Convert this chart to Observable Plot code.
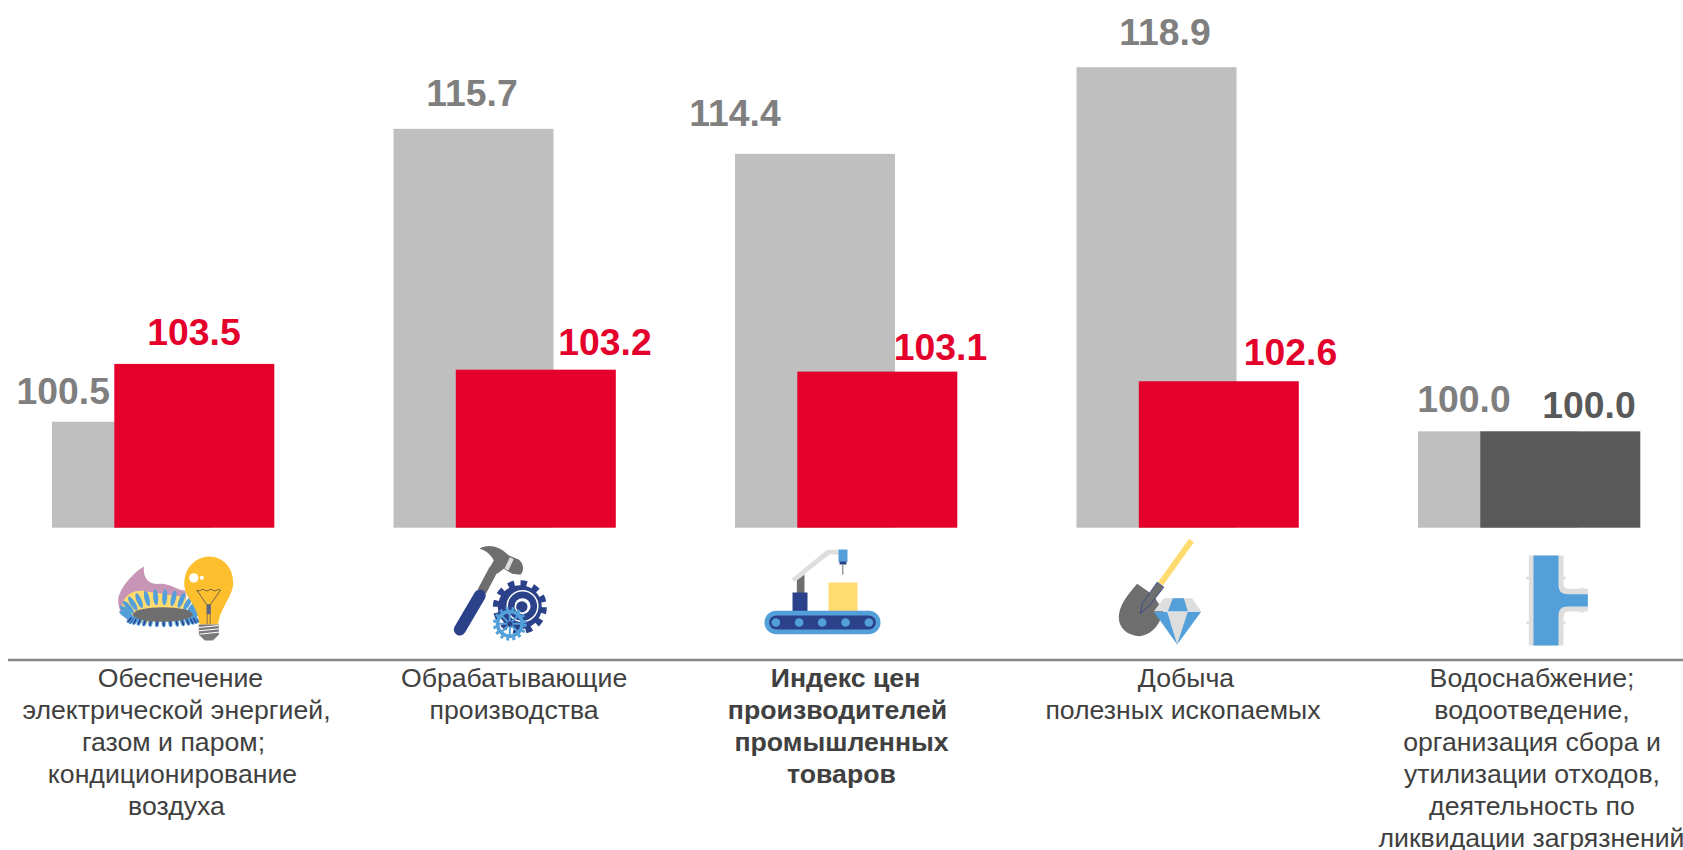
<!DOCTYPE html>
<html lang="ru">
<head>
<meta charset="utf-8">
<style>
html,body{margin:0;padding:0;background:#fff;overflow:hidden}
svg{display:block}
</style>
<script src="https://cdn.jsdelivr.net/npm/d3@7"></script>
<script src="https://cdn.jsdelivr.net/npm/@observablehq/plot@0.6"></script>
</head>
<body>
<div id="chart"></div>
<script>
// --- data ---
const categories = ["Электроэнергия", "Обрабатывающие", "Индекс", "Добыча", "Водоснабжение"];
const previousValues = [100.5, 115.7, 114.4, 118.9, 100.0];
const currentValues = [103.5, 103.2, 103.1, 102.6, 100.0];
const categoryLines = [
  ["Обеспечение", "электрической энергией,", "газом и паром;", "кондиционирование", "воздуха"],
  ["Обрабатывающие", "производства"],
  ["Индекс цен", "производителей", "промышленных", "товаров"],
  ["Добыча", "полезных ископаемых"],
  ["Водоснабжение;", "водоотведение,", "организация сбора и", "утилизации отходов,", "деятельность по", "ликвидации загрязнений"]
];

// --- layout and style ---
const RED = "#E4002B", DARK = "#595959", GRAY = "#BFBFBF", GRAYTEXT = "#7F7F7F", INK = "#404040";
const currentFill = [RED, RED, RED, RED, DARK];
const currentInk = [RED, RED, RED, RED, "#595959"];
const boldCategory = 2;
const xRange = [52, 1578], yRange = [527.7, 26.7], yBase = 95;
const bandStep = (xRange[1] - xRange[0]) / 4.4685, bandW = 160;
const bandCenter = i => xRange[0] + i * bandStep + bandW / 2;
const redShift = 62.3;
const prevLabelAt = [[62.7, 403], [471.5, 105], [734.5, 125], [1164.5, 44], [1463.5, 411.7]];
const currLabelAt = [[193.5, 344], [604.5, 354], [940, 359], [1290, 364], [1588.5, 417]];
const lineCenters = [
  [180, 176, 173, 172, 176],
  [513.6, 513.6],
  [845, 837, 841, 841],
  [1185.5, 1182.5],
  [1531.5, 1531.5, 1531.5, 1531.5, 1531.5, 1531]
];
const firstBaseline = 686.5, lineStep = 32;

// --- icons (decorative pictograms placed by Plot.image) ---
const BL = "#529FD9", NV = "#2B418A", GR = "#6E6E6E", LG = "#DEDEDE", YL = "#FFDB70";
const svgUri = (w, h, body) => "data:image/svg+xml," + encodeURIComponent(
  `<svg xmlns="http://www.w3.org/2000/svg" viewBox="0 0 ${w} ${h}" width="${w}" height="${h}">${body}</svg>`);

function burnerPetals() {
  let s = "";
  for (let a = 172; a <= 368; a += 15) {
    const r = a * Math.PI / 180;
    const cx = 165 + 104 * Math.cos(r), cy = 203 + 48 * Math.sin(r);
    const rot = (a - 270) * 0.6;
    s += `<ellipse cx="${cx}" cy="${cy}" rx="7.5" ry="24" fill="${BL}" transform="rotate(${rot} ${cx} ${cy})"/>`;
  }
  return s;
}
function burnerLower() {
  let s = "";
  for (let a = 8; a <= 172; a += 11.5) {
    const r = a * Math.PI / 180;
    const cx = 172 + 100 * Math.cos(r), cy = 219 + 12 * Math.sin(r);
    const rot = (90 - a) * -0.5;
    s += `<ellipse cx="${cx}" cy="${cy}" rx="6.5" ry="14" fill="${BL}" transform="rotate(${rot} ${cx} ${cy})"/>` +
         `<ellipse cx="${cx}" cy="${cy + 2}" rx="2.6" ry="10" fill="${NV}" transform="rotate(${rot} ${cx} ${cy})"/>`;
  }
  return s;
}
const icon1 = svgUri(405, 300, `
  <path d="M115,63 C80,85 40,130 38,165 C38,200 60,225 85,232 L245,190 L240,135 C215,135 195,115 165,115 C135,118 112,105 115,63Z" fill="#C795B5"/>
  <path d="M50,178 C55,150 85,130 120,137 L240,155 L245,200 L120,234 C85,234 52,210 50,178Z" fill="${YL}"/>
  ${burnerPetals()}
  ${burnerLower()}
  <ellipse cx="172" cy="207" rx="90" ry="22" fill="${GR}"/>
  <path d="M310,33 C355,33 385,70 383,115 C381,155 345,185 338,237 L282,237 C280,205 262,175 245,150 C232,125 235,95 245,75 C258,50 285,33 310,33Z" fill="#FDBF2D"/>
  <circle cx="265" cy="97" r="14" fill="#fff"/><circle cx="289" cy="97" r="6" fill="#fff"/>
  <path d="M274,134 q6,5 12,0 t12,0 t12,0 t12,0 t12,0 t11,0 L314,178 L304,178Z" fill="none" stroke="#4A4A5A" stroke-width="2.4"/>
  <rect x="303" y="178" width="13" height="28" fill="#5A6688"/>
  <path d="M305,206V237M314,206V237" stroke="#4A4A5A" stroke-width="2"/>
  <path d="M280,237H340V268L322,285H298L280,268Z" fill="#7A7A7A"/>
  <path d="M280,246L340,240M280,256L340,250M282,266L340,260" stroke="#fff" stroke-width="3"/>`);

const icon2 = svgUri(360, 330, `
  <path d="M117,40 C140,25 175,30 205,60 L235,72 C250,85 252,105 240,118 L215,115 L190,100 L170,115 L148,95 L160,75 C150,55 130,42 117,40Z" fill="${GR}"/>
  <path d="M214,68L198,102" stroke="${LG}" stroke-width="13"/>
  <path d="M160,100L124,168" stroke="${GR}" stroke-width="28"/>
  <path d="M118,180L58,282" stroke="${NV}" stroke-width="36" stroke-linecap="round"/>
  <circle cx="238" cy="215" r="66" fill="${NV}"/>
  <circle cx="238" cy="215" r="72" fill="none" stroke="${NV}" stroke-width="18" stroke-dasharray="19 18.7"/>
  <circle cx="246" cy="212" r="46" fill="none" stroke="#fff" stroke-width="4.5"/>
  <circle cx="246" cy="212" r="24" fill="#fff"/>
  <circle cx="244" cy="214" r="17" fill="${NV}"/>
  <circle cx="208" cy="265" r="37" fill="none" stroke="${BL}" stroke-width="11"/>
  <circle cx="208" cy="265" r="46" fill="none" stroke="${BL}" stroke-width="9" stroke-dasharray="9 9.4"/>
  <path d="M208,232V298M175,265H241M185,242L231,288M231,242L185,288" stroke="${BL}" stroke-width="6"/>
  <circle cx="208" cy="265" r="8" fill="${NV}"/>`);

const icon3 = svgUri(405, 300, `
  <polygon points="108,115 215,28 250,28 250,42 222,42 118,124" fill="${LG}"/>
  <polygon points="124,120 147,102 147,158 124,158" fill="${GR}"/>
  <rect x="111" y="156" width="45" height="57" fill="${NV}"/>
  <rect x="249" y="27" width="27" height="37" fill="${BL}"/>
  <rect x="252" y="63" width="21" height="9" fill="${NV}"/>
  <path d="M262,72V102" stroke="#666" stroke-width="3"/>
  <rect x="219" y="126" width="87" height="87" fill="${YL}"/>
  <rect x="27" y="211" width="348" height="70" rx="35" fill="${BL}"/>
  <rect x="41" y="225" width="320" height="42" rx="21" fill="${NV}"/>
  ${[61, 131, 200, 270, 340].map(c => `<circle cx="${c}" cy="246" r="13" fill="${BL}"/>`).join("")}`);

const icon4 = svgUri(300, 360, `
  <path d="M243,30L150,160" stroke="${YL}" stroke-width="18"/>
  <path d="M80,160 C50,195 25,225 25,262 C25,292 50,315 85,317 C120,315 150,285 158,240 L135,205 L130,195Z" fill="${GR}"/>
  <polygon points="140,155 160,170 117,226 90,248 95,220" fill="${GR}" stroke="${NV}" stroke-width="2.4"/>
  <polygon points="130,242 160,203 245,203 272,242" fill="${LG}"/>
  <polygon points="187,203 220,203 232,242 172,242" fill="${BL}"/>
  <polygon points="130,244 272,244 200,342" fill="${BL}"/>
  <polygon points="170,244 232,244 200,342" fill="${LG}"/>`);

const icon5 = svgUri(240, 315, `
  <path d="M40,30H144V115Q144,130 160,130H217V198H160Q144,198 144,215V300H40Z" fill="${LG}"/>
  ${[[37, 98], [37, 232], [146, 98], [146, 232], [200, 131], [200, 197]].map(([a, b]) => `<circle cx="${a}" cy="${b}" r="5" fill="${LG}"/>`).join("")}
  <path d="M54,30H129V120Q129,146 155,146H217V183H155Q129,183 129,210V300H54Z" fill="${BL}"/>`);

// crop-based placement: [left, top, width, height]
const iconBoxes = [
  [icon1, 105, 545, 135, 100], [icon2, 440, 535, 120, 110], [icon3, 755, 540, 135, 100],
  [icon4, 1110, 530, 100, 120], [icon5, 1515, 545, 80, 105]
];

// --- tables ---
const rows = categories.map((c, i) => ({c, i, prev: previousValues[i], curr: currentValues[i]}));

// --- text helpers ---
const yOf = v => yRange[0] + (v - yBase) * (yRange[1] - yRange[0]) / 26;
const textAt = (i, str, cx, by, opts) => Plot.text([str], {
  x: () => categories[i], y: () => yBase, text: d => d,
  dx: cx - bandCenter(i), dy: by - yOf(yBase),
  lineAnchor: "bottom", textAnchor: "middle", fontFamily: "'Liberation Sans', Arial, sans-serif", ...opts
});

const valueFmt = d3.format(".1f");
const marks = [
  Plot.barY(rows, {x: "c", y1: () => yBase, y2: "prev", fill: GRAY, insetLeft: 0, insetRight: 0}),
  Plot.barY(rows, {x: "c", y1: () => yBase, y2: "curr", fill: d => currentFill[d.i], dx: redShift}),
  Plot.ruleY([yBase], {dy: 659.5 - yOf(yBase), stroke: "#868686", strokeWidth: 2.6})
];
rows.forEach(r => {
  marks.push(textAt(r.i, valueFmt(r.prev), prevLabelAt[r.i][0], prevLabelAt[r.i][1],
    {fontSize: 37.33, fontWeight: "bold", fill: GRAYTEXT}));
  marks.push(textAt(r.i, valueFmt(r.curr), currLabelAt[r.i][0], currLabelAt[r.i][1],
    {fontSize: 37.33, fontWeight: "bold", fill: currentInk[r.i]}));
  categoryLines[r.i].forEach((ln, k) => marks.push(textAt(r.i, ln, lineCenters[r.i][k], firstBaseline + k * lineStep,
    {fontSize: 26.67, fill: INK, fontWeight: r.i === boldCategory ? "bold" : "normal"})));
  const [src, l, t, w, h] = iconBoxes[r.i];
  marks.push(Plot.image([r], {
    x: "c", y: () => yBase, src: () => src, width: w, height: h,
    dx: l + w / 2 - bandCenter(r.i), dy: t + h / 2 - yOf(yBase)
  }));
});

const chart = Plot.plot({
  width: 1683, height: 850,
  marginTop: 0, marginBottom: 0, marginLeft: 8, marginRight: 0,
  style: {background: "#fff", overflow: "visible"},
  x: {type: "band", domain: categories, range: xRange, paddingInner: 1 - bandW / bandStep, paddingOuter: 0, align: 0, round: false, axis: null},
  y: {domain: [yBase, 121], range: yRange, axis: null},
  marks
});
document.getElementById("chart").append(chart);
</script>
</body>
</html>
